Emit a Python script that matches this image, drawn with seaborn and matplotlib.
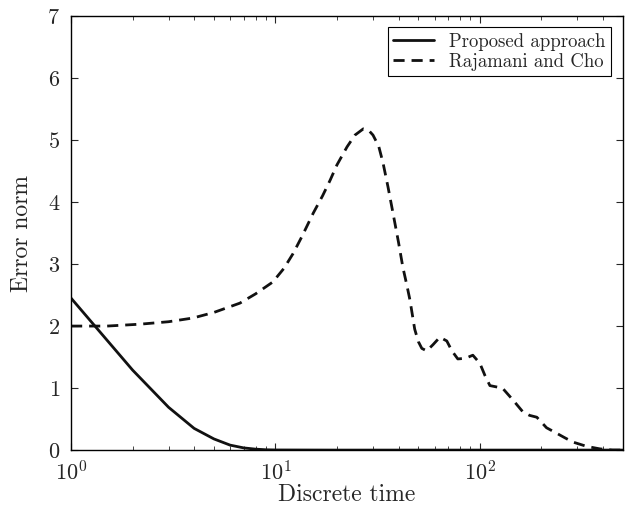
import matplotlib
matplotlib.use("Agg")
import matplotlib.pyplot as plt
import seaborn as sns
import pandas as pd
import numpy as np

# Proposed approach (solid)
t_prop = [1, 2, 3, 4, 5, 6, 7, 8, 9, 10, 20, 50, 100, 200, 500]
e_prop = [2.45, 1.29, 0.69, 0.35, 0.18, 0.08, 0.035, 0.015, 0.005, 0.002, 0.0, 0.0, 0.0, 0.0, 0.0]

# Rajamani and Cho (dashed)
t_raj = [1, 1.5, 2.17, 3, 3.95, 5, 6.7, 8, 9.7, 11, 12.2, 13.5, 15.3, 17, 18.5, 20, 22.4,
         24.5, 26.9, 28.5, 30, 32, 33.6, 35.5, 37.6, 40, 42, 44, 45.5, 48, 50, 52, 55,
         59, 63.7, 68.9, 73, 78, 85, 92.4, 100, 106, 112, 120, 129, 145, 162, 175, 190,
         212, 238, 260, 285, 333, 386, 446, 500]
e_raj = [2.0, 2.0, 2.03, 2.07, 2.13, 2.22, 2.37, 2.52, 2.71, 2.93, 3.17, 3.45, 3.82, 4.1, 4.35,
         4.6, 4.89, 5.08, 5.18, 5.16, 5.08, 4.9, 4.63, 4.25, 3.82, 3.35, 2.95, 2.65, 2.42, 1.95,
         1.75, 1.64, 1.6, 1.7, 1.82, 1.76, 1.6, 1.47, 1.48, 1.53, 1.40, 1.2, 1.04, 1.02, 1.0,
         0.81, 0.62, 0.56, 0.53, 0.36, 0.27, 0.2, 0.13, 0.06, 0.02, 0.0, 0.0]

labels = ["Proposed approach", "Rajamani and Cho"]

df = pd.concat([
    pd.DataFrame({"t": t_prop, "e": e_prop, "method": labels[0]}),
    pd.DataFrame({"t": t_raj, "e": e_raj, "method": labels[1]}),
])

sns.set_style("ticks")
plt.rcParams["font.family"] = ["serif"]
plt.rcParams["font.serif"] = ["cmr10", "DejaVu Serif"]
plt.rcParams["mathtext.fontset"] = "cm"
plt.rcParams["axes.formatter.use_mathtext"] = True
plt.rcParams["axes.unicode_minus"] = False

fig = plt.figure(figsize=(6.29, 5.08), dpi=100)
ax = fig.add_axes([0.113, 0.114, 0.877, 0.8545])

sns.lineplot(data=df, x="t", y="e", hue="method", style="method",
             palette={labels[0]: "#111111", labels[1]: "#111111"},
             dashes={labels[0]: "", labels[1]: (4, 2.5)},
             linewidth=2, ax=ax, estimator=None, sort=False)

ax.set_xscale("log")
ax.set_xlim(1, 500)
ax.set_ylim(0, 7)
ax.set_yticks(range(0, 8))
ax.set_xlabel("Discrete time", fontsize=17, labelpad=0)
ax.set_ylabel("Error norm", fontsize=17, labelpad=10)
ax.tick_params(axis="both", which="both", direction="in", top=True, right=True, labelsize=16)
ax.tick_params(axis="x", which="major", pad=7, length=5)
ax.tick_params(axis="x", which="minor", length=3)
ax.tick_params(axis="y", length=5, pad=8)
for s in ax.spines.values():
    s.set_linewidth(1)
    s.set_color("black")

leg = ax.legend(loc="upper right", fontsize=13.5, frameon=True, fancybox=False,
                edgecolor="black", framealpha=1, handlelength=2.2,
                borderpad=0.3, labelspacing=0.1, borderaxespad=0.6)
leg.get_frame().set_linewidth(0.8)

fig.savefig("out.png", dpi=100)
